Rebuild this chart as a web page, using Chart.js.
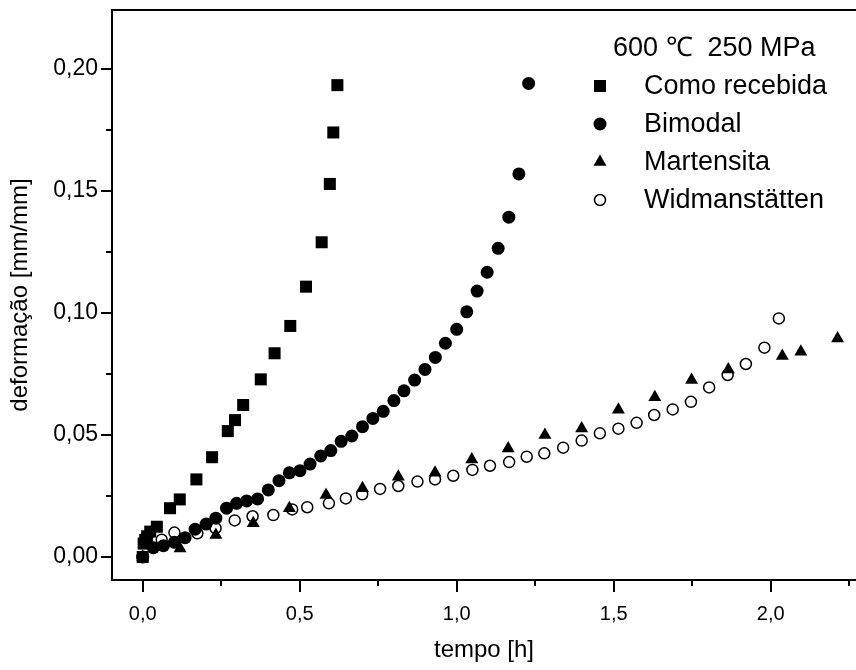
<!DOCTYPE html>
<html lang="pt">
<head>
<meta charset="UTF-8">
<title>Fluência 600 ℃ 250 MPa</title>
<script src="https://cdn.jsdelivr.net/npm/chart.js"></script>
<style>
body {
    margin: 0;
    padding: 0;
    background-color: #ffffff;
}
#chartCanvas {
    display: block;
}
</style>
</head>
<body>
<canvas id="chartCanvas" width="856" height="670"></canvas>

<script>
// Dados: tempo [h] e deformação [mm/mm]
var recebidaTempo = [0, 0.003, 0.008, 0.014, 0.024, 0.045, 0.087, 0.118, 0.171, 0.221, 0.271, 0.294, 0.320, 0.376, 0.420, 0.470, 0.520, 0.570, 0.596, 0.607, 0.620];
var recebidaDef   = [0, 0.0055, 0.007, 0.0085, 0.0104, 0.0124, 0.020, 0.0236, 0.0318, 0.0409, 0.0516, 0.0561, 0.0623, 0.0728, 0.0835, 0.0947, 0.1108, 0.129, 0.1529, 0.174, 0.1934];

var bimodalTempo = [0, 0.034, 0.066, 0.101, 0.135, 0.167, 0.202, 0.233, 0.267, 0.299, 0.331, 0.366, 0.400, 0.434, 0.467, 0.501, 0.533, 0.567, 0.599, 0.632, 0.666, 0.700, 0.733, 0.766, 0.800, 0.832, 0.866, 0.899, 0.932, 0.964, 1.000, 1.032, 1.065, 1.097, 1.132, 1.166, 1.198, 1.229];
var bimodalDef   = [0, 0.0038, 0.0046, 0.006, 0.0079, 0.0114, 0.0135, 0.0159, 0.020, 0.022, 0.023, 0.0238, 0.0275, 0.0313, 0.0345, 0.0354, 0.0381, 0.0414, 0.0436, 0.0474, 0.0496, 0.0534, 0.0568, 0.0597, 0.0641, 0.0681, 0.0725, 0.0769, 0.0818, 0.0876, 0.0933, 0.1005, 0.109, 0.1167, 0.1265, 0.1393, 0.157, 0.1941];

var martensitaTempo = [0, 0.119, 0.233, 0.352, 0.467, 0.584, 0.700, 0.814, 0.931, 1.048, 1.164, 1.281, 1.398, 1.515, 1.631, 1.748, 1.865, 2.037, 2.096, 2.213];
var martensitaDef   = [0, 0.0035, 0.009, 0.0138, 0.020, 0.0254, 0.0282, 0.0329, 0.0345, 0.040, 0.0445, 0.050, 0.0527, 0.0604, 0.0655, 0.0725, 0.0769, 0.0824, 0.0841, 0.0896];

var widmanTempo = [0, 0.0605, 0.101, 0.174, 0.232, 0.293, 0.350, 0.416, 0.476, 0.524, 0.593, 0.647, 0.699, 0.756, 0.814, 0.875, 0.931, 0.989, 1.050, 1.106, 1.167, 1.223, 1.279, 1.339, 1.398, 1.456, 1.515, 1.573, 1.629, 1.688, 1.746, 1.804, 1.863, 1.921, 1.980, 2.026];
var widmanDef   = [0, 0.0071, 0.010, 0.0097, 0.0118, 0.015, 0.0167, 0.0172, 0.0195, 0.0204, 0.022, 0.024, 0.0257, 0.0279, 0.0291, 0.0309, 0.0318, 0.0333, 0.0357, 0.0374, 0.0389, 0.0411, 0.0425, 0.0448, 0.0477, 0.0507, 0.0526, 0.055, 0.0582, 0.0605, 0.0636, 0.0695, 0.0746, 0.0791, 0.0858, 0.0978];

var serieNomes = ['Como recebida', 'Bimodal', 'Martensita', 'Widmanstätten'];
var legendaTitulo = '600 ℃  250 MPa';

// Marcas dos eixos
var xTickValores = [0, 0.5, 1.0, 1.5, 2.0];
var xTickTextos  = ['0,0', '0,5', '1,0', '1,5', '2,0'];
var xMinorValores = [0.25, 0.75, 1.25, 1.75, 2.25];
var yTickValores = [0, 0.05, 0.10, 0.15, 0.20];
var yTickTextos  = ['0,00', '0,05', '0,10', '0,15', '0,20'];
var yMinorValores = [0.025, 0.075, 0.125, 0.175];

var fonte = "'Liberation Sans', Arial, sans-serif";

function pares(xs, ys) {
    return xs.map(function(x, i) { return { x: x, y: ys[i] }; });
}

// Eixos desenhados à moda do Origin: linha esquerda, inferior e superior, marcas para fora
var eixosPlugin = {
    id: 'eixos',
    beforeDatasetsDraw: function(chart) {
        var ctx = chart.ctx;
        var a = chart.chartArea;
        var xs = chart.scales.x;
        var ys = chart.scales.y;
        ctx.save();
        ctx.strokeStyle = '#000';
        ctx.lineWidth = 2;
        ctx.beginPath();
        ctx.moveTo(a.right, a.top);
        ctx.lineTo(a.left, a.top);
        ctx.lineTo(a.left, a.bottom);
        ctx.lineTo(a.right, a.bottom);
        ctx.stroke();

        ctx.beginPath();
        xTickValores.forEach(function(v) {
            var px = Math.round(xs.getPixelForValue(v));
            ctx.moveTo(px, a.bottom); ctx.lineTo(px, a.bottom + 12);
        });
        xMinorValores.forEach(function(v) {
            var px = Math.round(xs.getPixelForValue(v));
            ctx.moveTo(px, a.bottom); ctx.lineTo(px, a.bottom + 6);
        });
        yTickValores.forEach(function(v) {
            var py = Math.round(ys.getPixelForValue(v));
            ctx.moveTo(a.left, py); ctx.lineTo(a.left - 11, py);
        });
        yMinorValores.forEach(function(v) {
            var py = Math.round(ys.getPixelForValue(v));
            ctx.moveTo(a.left, py); ctx.lineTo(a.left - 6, py);
        });
        ctx.stroke();
        ctx.restore();
    }
};

// Legenda dentro da área do gráfico
var legendaPlugin = {
    id: 'legendaOrigin',
    afterDraw: function(chart) {
        var ctx = chart.ctx;
        ctx.save();
        ctx.fillStyle = '#000';
        ctx.textBaseline = 'middle';
        ctx.font = '27px ' + fonte;
        ctx.fillText(legendaTitulo, 613, 49);
        chart.data.datasets.forEach(function(ds, i) {
            var y = 86 + i * 38;
            ctx.fillStyle = ds.backgroundColor;
            ctx.strokeStyle = ds.borderColor;
            ctx.lineWidth = ds.borderWidth;
            Chart.helpers.drawPoint(ctx, {
                pointStyle: ds.pointStyle,
                radius: ds.pointRadius,
                borderWidth: ds.borderWidth,
                rotation: 0
            }, 600, y);
            ctx.fillStyle = '#000';
            ctx.fillText(ds.label, 644, y + 1);
        });
        ctx.restore();
    }
};

var ctx = document.getElementById('chartCanvas').getContext('2d');
var myChart = new Chart(ctx, {
    type: 'scatter',
    data: {
        datasets: [{
            label: serieNomes[0],
            data: pares(recebidaTempo, recebidaDef),
            pointStyle: 'rect',
            pointRadius: 8.5,
            backgroundColor: '#000',
            borderColor: '#000',
            borderWidth: 0
        }, {
            label: serieNomes[1],
            data: pares(bimodalTempo, bimodalDef),
            pointStyle: 'circle',
            pointRadius: 6.5,
            backgroundColor: '#000',
            borderColor: '#000',
            borderWidth: 0
        }, {
            label: serieNomes[2],
            data: pares(martensitaTempo, martensitaDef),
            pointStyle: 'triangle',
            pointRadius: 7.5,
            backgroundColor: '#000',
            borderColor: '#000',
            borderWidth: 0
        }, {
            label: serieNomes[3],
            data: pares(widmanTempo, widmanDef),
            pointStyle: 'circle',
            pointRadius: 5.5,
            backgroundColor: '#fff',
            borderColor: '#000',
            borderWidth: 1.5
        }]
    },
    options: {
        responsive: false,
        animation: false,
        devicePixelRatio: 1,
        layout: {
            autoPadding: false,
            padding: { top: 10, left: 0, right: 0, bottom: 0 }
        },
        plugins: {
            legend: { display: false },
            tooltip: { enabled: false }
        },
        elements: { point: { hoverRadius: 0 } },
        scales: {
            x: {
                type: 'linear',
                min: -0.0978,
                max: 2.2717,
                grid: { display: false, drawTicks: false },
                border: { display: false },
                afterBuildTicks: function(scale) {
                    scale.ticks = xTickValores.map(function(v) { return { value: v }; });
                },
                afterFit: function(scale) {
                    scale.height = 90;
                    scale.paddingLeft = 0;
                    scale.paddingRight = 0;
                },
                ticks: {
                    padding: 22,
                    color: '#000',
                    font: { family: fonte, size: 20 },
                    maxRotation: 0,
                    callback: function(v, i) { return xTickTextos[i]; }
                },
                title: {
                    display: true,
                    text: 'tempo [h]',
                    color: '#000',
                    font: { family: fonte, size: 24, lineHeight: 1 },
                    padding: { top: 0, bottom: 8 }
                }
            },
            y: {
                type: 'linear',
                min: -0.00943,
                max: 0.2242,
                grid: { display: false, drawTicks: false },
                border: { display: false },
                afterBuildTicks: function(scale) {
                    scale.ticks = yTickValores.map(function(v) { return { value: v }; });
                },
                afterFit: function(scale) {
                    scale.width = 112;
                    scale.paddingTop = 0;
                    scale.paddingBottom = 0;
                },
                ticks: {
                    padding: 14,
                    color: '#000',
                    font: { family: fonte, size: 23 },
                    callback: function(v, i) { return yTickTextos[i]; }
                },
                title: {
                    display: true,
                    text: 'deformação [mm/mm]',
                    color: '#000',
                    font: { family: fonte, size: 24, lineHeight: 1 },
                    padding: { top: 8, bottom: 0 }
                }
            }
        }
    },
    plugins: [eixosPlugin, legendaPlugin]
});
</script>
</body>
</html>
